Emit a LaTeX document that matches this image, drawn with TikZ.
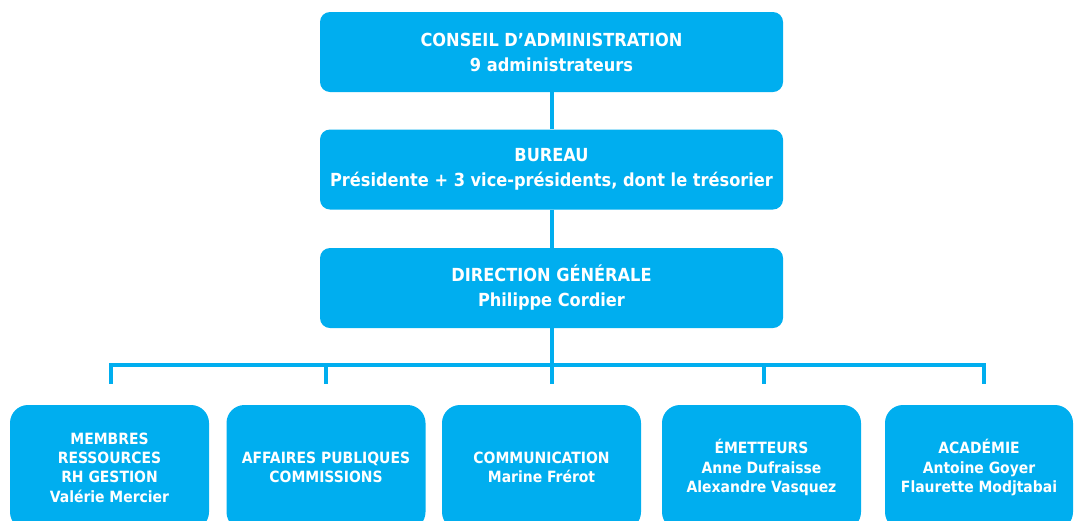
\documentclass[tikz,border=0pt]{standalone}
\usepackage{fontspec}
\setmainfont{DejaVu Sans Condensed}[BoldFont={DejaVu Sans Condensed Bold}]
\definecolor{cyanbox}{RGB}{0,174,239}
\begin{document}
\begin{tikzpicture}[x=1pt,y=-1pt,
  topbox/.style={fill=cyanbox, rounded corners=10pt, minimum width=463pt, minimum height=80pt,
    text=white, font=\bfseries\fontsize{18}{25}\selectfont, align=center, inner sep=0pt},
  botbox/.style={fill=cyanbox, rounded corners=18pt, minimum width=199pt, minimum height=125pt,
    text=white, font=\bfseries\fontsize{15.5}{19.3}\selectfont, align=center, inner sep=0pt},
  link/.style={draw=cyanbox, line width=4pt}]
\path[use as bounding box] (0,0) rectangle (1075,520);
\clip (0,0) rectangle (1075,520);
\node[topbox] (cons) at (551.5,52) {CONSEIL D’ADMINISTRATION\\9 administrateurs};
\node[topbox] (bur) at (551.5,169.5) {BUREAU\\Présidente + 3 vice-présidents, dont le trésorier};
\node[topbox] (dir) at (551.5,288) {DIRECTION GÉNÉRALE\\Philippe Cordier};
\node[botbox] (m1) at (109.5,467.5) {MEMBRES\\RESSOURCES\\RH GESTION\\Valérie Mercier};
\node[botbox] (m2) at (326,467.5) {AFFAIRES PUBLIQUES\\COMMISSIONS};
\node[botbox] (m3) at (541.5,467.5) {COMMUNICATION\\Marine Frérot};
\node[botbox] (m4) at (761.5,467.5) {ÉMETTEURS\\Anne Dufraisse\\Alexandre Vasquez};
\node[botbox, minimum width=188pt] (m5) at (979,467.5) {ACADÉMIE\\Antoine Goyer\\Flaurette Modjtabai};
\coordinate (bl) at (111,365);
\coordinate (br) at (984,365);
\coordinate (trunk) at (551.5,365);
\coordinate (d1) at (111,384);
\coordinate (d2) at (326,384);
\coordinate (d3) at (551.5,384);
\coordinate (d4) at (764,384);
\coordinate (d5) at (984,384);
\draw[link] (cons) -- (bur);
\draw[link] (bur) -- (dir);
\draw[link] (dir.south) -- (trunk);
\draw[link, line cap=rect] (bl) -- (br);
\draw[link] (bl) -- (d1);
\draw[link] (d2 |- bl) -- (d2);
\draw[link] (trunk) -- (d3);
\draw[link] (d4 |- bl) -- (d4);
\draw[link] (br) -- (d5);
\end{tikzpicture}
\end{document}
